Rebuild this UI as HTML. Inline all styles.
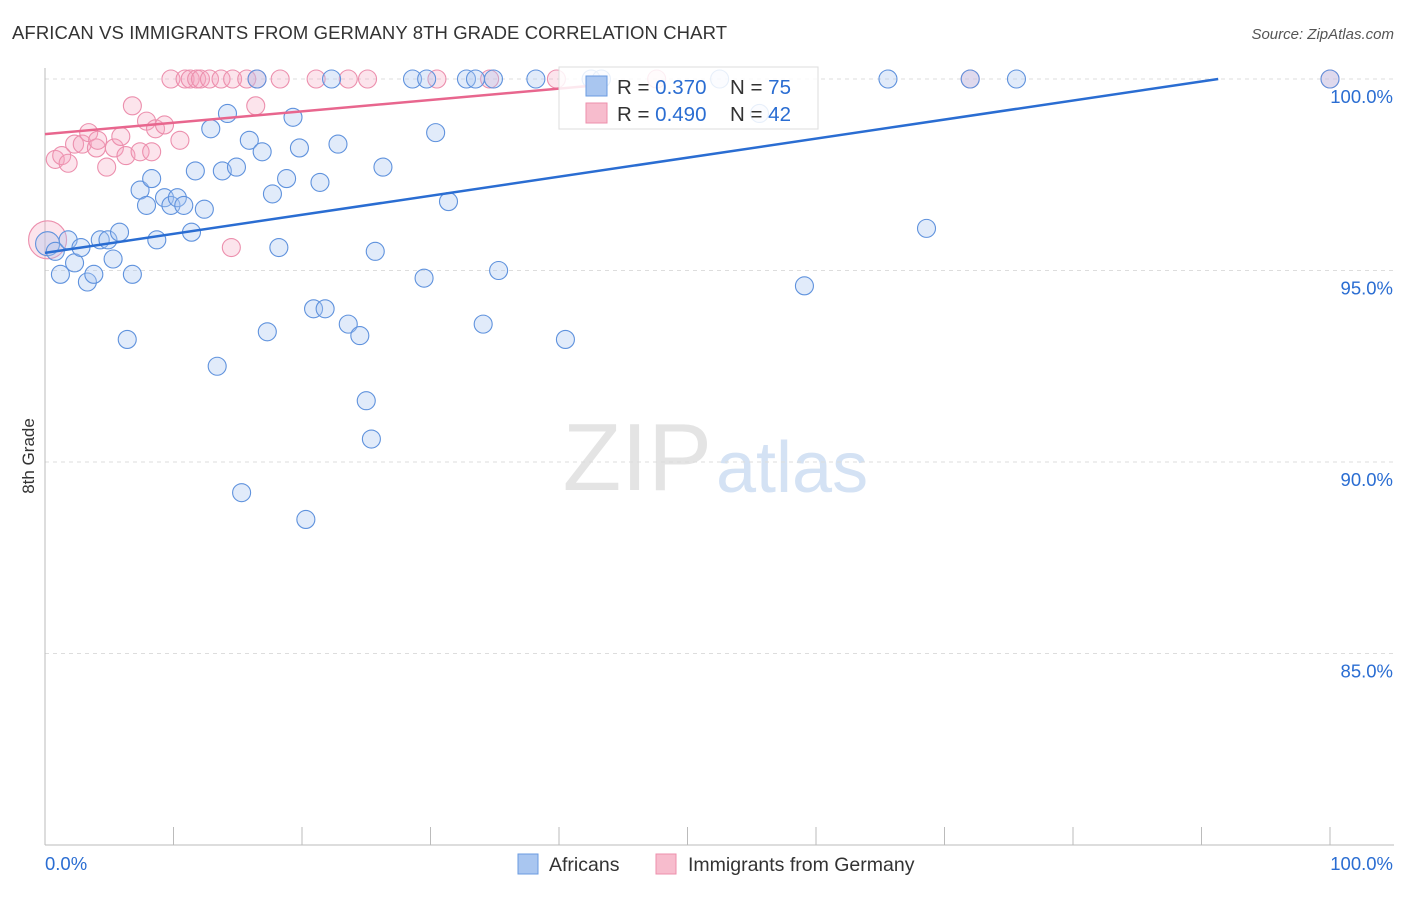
<!DOCTYPE html>
<html><head><meta charset="utf-8"><style>
body{margin:0;background:#fff;font-family:"Liberation Sans",sans-serif;}
svg text{font-family:"Liberation Sans",sans-serif;}
</style></head><body>
<svg width="1406" height="892" viewBox="0 0 1406 892" xmlns="http://www.w3.org/2000/svg">
<text x="12" y="39" font-size="18.5" fill="#333" textLength="715">AFRICAN VS IMMIGRANTS FROM GERMANY 8TH GRADE CORRELATION CHART</text>
<text x="1394" y="39" font-size="15" fill="#555" font-style="italic" text-anchor="end">Source: ZipAtlas.com</text>
<text x="34" y="456" font-size="17" fill="#333" transform="rotate(-90 34 456)" text-anchor="middle">8th Grade</text>
<text x="712" y="490" font-size="96" fill="#e4e4e4" text-anchor="end" font-family="Liberation Serif">ZIP</text>
<text x="716" y="492" font-size="72" fill="#d4e2f4">atlas</text>
<g id="grid"></g>
<g id="axes"></g>
<g id="pts"></g>
<g id="lines"></g>
<g>
<rect x="559" y="67" width="259" height="62" fill="#fff" fill-opacity="0.85" stroke="#ddd"/>
<rect x="586" y="76" width="21" height="20" fill="#a9c6f0" stroke="#6a9be0"/>
<rect x="586" y="103" width="21" height="20" fill="#f7bccd" stroke="#ee8fac"/>
<text x="617" y="94" font-size="20.5" fill="#333">R = <tspan fill="#2a6dd2">0.370</tspan></text>
<text x="730" y="94" font-size="20.5" fill="#333">N = <tspan fill="#2a6dd2">75</tspan></text>
<text x="617" y="121" font-size="20.5" fill="#333">R = <tspan fill="#2a6dd2">0.490</tspan></text>
<text x="730" y="121" font-size="20.5" fill="#333">N = <tspan fill="#2a6dd2">42</tspan></text>
</g>
<g>
<rect x="518" y="854" width="20" height="20" fill="#a9c6f0" stroke="#6a9be0"/>
<text x="549" y="871" font-size="19.5" fill="#333">Africans</text>
<rect x="656" y="854" width="20" height="20" fill="#f7bccd" stroke="#ee8fac"/>
<text x="688" y="871" font-size="19.5" fill="#333">Immigrants from Germany</text>
</g>
</svg>
<script>
const blueX=[0.2,0.8,1.2,1.8,2.3,2.8,3.3,3.8,4.3,4.9,5.3,5.8,6.4,6.8,7.4,7.9,8.3,8.7,9.3,9.8,10.3,10.8,11.4,11.7,12.4,12.9,13.4,13.8,14.2,14.9,15.3,15.9,16.5,16.9,17.3,17.7,18.2,18.8,19.3,19.8,20.3,20.9,21.4,21.8,22.3,22.8,23.6,24.5,25.0,25.4,25.7,26.3,28.6,29.5,29.7,30.4,31.4,32.8,33.5,34.1,34.9,35.3,38.2,40.5,42.5,43.3,52.5,55.6,59.1,65.6,68.6,72.0,75.6,100];
const blueY=[95.7,95.5,94.9,95.8,95.2,95.6,94.7,94.9,95.8,95.8,95.3,96.0,93.2,94.9,97.1,96.7,97.4,95.8,96.9,96.7,96.9,96.7,96.0,97.6,96.6,98.7,92.5,97.6,99.1,97.7,89.2,98.4,100,98.1,93.4,97.0,95.6,97.4,99.0,98.2,88.5,94.0,97.3,94.0,100,98.3,93.6,93.3,91.6,90.6,95.5,97.7,100,94.8,100,98.6,96.8,100,100,93.6,100,95.0,100,93.2,100,100,100,99.1,94.6,100,96.1,100,100,100];
const pinkX=[0.2,0.8,1.3,1.8,2.3,2.9,3.4,4.0,4.1,4.8,5.4,5.9,6.3,6.8,7.4,7.9,8.3,8.6,9.3,9.8,10.5,10.9,11.3,11.8,12.1,12.8,13.7,14.5,14.6,15.7,16.4,16.5,18.3,21.1,23.6,25.1,30.5,34.6,39.8,47.6,72.0,100];
const pinkY=[95.8,97.9,98.0,97.8,98.3,98.3,98.6,98.2,98.4,97.7,98.2,98.5,98.0,99.3,98.1,98.9,98.1,98.7,98.8,100,98.4,100,100,100,100,100,100,95.6,100,100,99.3,100,100,100,100,100,100,100,100,100,100,100];
const blueLine=[95.46,100];
const blueLineEndX=91.3;
const pinkLine=[98.56,99.82];
const pinkLineEndX=42.4;
const yTicks=[100,95,90,85];
const yTickLabels=["100.0%","95.0%","90.0%","85.0%"];
const xTicks=[0,10,20,30,40,50,60,70,80,90,100];
const xs=v=>45+v*12.85, ys=v=>79+(100-v)*38.3;
const NS="http://www.w3.org/2000/svg";
function mk(p,t,a){const e=document.createElementNS(NS,t);for(const k in a)e.setAttribute(k,a[k]);p.appendChild(e);return e;}
const grid=document.getElementById('grid'),axes=document.getElementById('axes'),pts=document.getElementById('pts'),lines=document.getElementById('lines');
yTicks.forEach((t,i)=>{
 const l=mk(grid,'line',{x1:45,x2:1394,y1:ys(t),y2:ys(t),stroke:'#ddd','stroke-dasharray':'4,4'});
 
 
 const tx=mk(grid,'text',{x:1393,y:ys(t)+24,'font-size':18.5,fill:'#2a6dd2','text-anchor':'end'});tx.textContent=yTickLabels[i];
 
 
});
const ya=mk(axes,'line',{x1:45,x2:45,y1:68,y2:845,stroke:'#bbb'});


const xa=mk(axes,'line',{x1:45,x2:1394,y1:845,y2:845,stroke:'#bbb'});


xTicks.forEach(t=>{const l=mk(axes,'line',{x1:xs(t),x2:xs(t),y1:827,y2:845,stroke:'#bbb'});
 
 });
const xl0=mk(axes,'text',{x:45,y:870,'font-size':18.5,fill:'#2a6dd2'});xl0.textContent='0.0%';


const xl1=mk(axes,'text',{x:1393,y:870,'font-size':18.5,fill:'#2a6dd2','text-anchor':'end'});xl1.textContent='100.0%';


pinkX.forEach((x,i)=>{const c=mk(pts,'circle',{cx:xs(x),cy:ys(pinkY[i]),r:i==0?19:9,fill:'#f4a7bf','fill-opacity':0.3,stroke:'#ec8fad','stroke-width':1.1});
 
 });
blueX.forEach((x,i)=>{const c=mk(pts,'circle',{cx:xs(x),cy:ys(blueY[i]),r:i==0?12:9,fill:'#a9c6f0','fill-opacity':0.35,stroke:'#5f92dd','stroke-width':1.1});
 
 });
const bl=mk(lines,'line',{x1:xs(0),y1:ys(blueLine[0]),x2:xs(blueLineEndX),y2:ys(blueLine[1]),stroke:'#2a6dd2','stroke-width':2.5});


const pl=mk(lines,'line',{x1:xs(0),y1:ys(pinkLine[0]),x2:xs(pinkLineEndX),y2:ys(pinkLine[1]),stroke:'#e8668e','stroke-width':2.5});


</script>
</body></html>
